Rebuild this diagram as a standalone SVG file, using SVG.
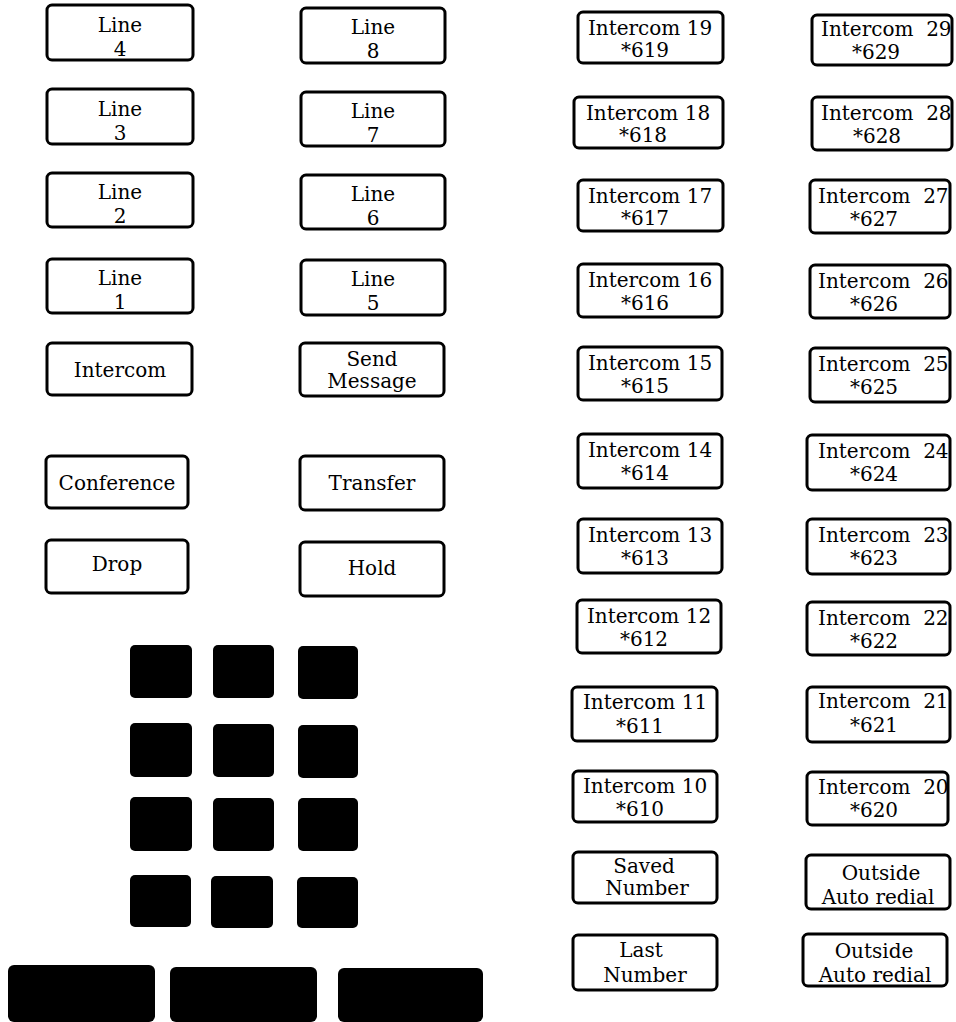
<svg xmlns="http://www.w3.org/2000/svg" width="956" height="1022" viewBox="0 0 956 1022">
<style>
.b{fill:#fff;stroke:#000;stroke-width:3}
.k{fill:#000}
.t{font-family:"DejaVu Serif","Liberation Serif",serif;font-size:20px;fill:#000;text-anchor:middle}
.s{text-anchor:start;white-space:pre}
</style>
<rect width="956" height="1022" fill="#fff"/>
<g id="line4"><rect class="b" x="47" y="5" width="146" height="55" rx="5"/><text class="t" x="120" y="32">Line</text><text class="t" x="120" y="56">4</text></g>
<g id="line3"><rect class="b" x="47" y="89" width="146" height="55" rx="5"/><text class="t" x="120" y="116">Line</text><text class="t" x="120" y="140">3</text></g>
<g id="line2"><rect class="b" x="47" y="173" width="146" height="54" rx="5"/><text class="t" x="120" y="199">Line</text><text class="t" x="120" y="223">2</text></g>
<g id="line1"><rect class="b" x="47" y="259" width="146" height="54" rx="5"/><text class="t" x="120" y="285">Line</text><text class="t" x="120" y="309">1</text></g>
<g id="intercom"><rect class="b" x="47" y="343" width="145" height="52" rx="5"/><text class="t" x="120" y="377">Intercom</text></g>
<g id="conference"><rect class="b" x="46" y="456" width="142" height="52" rx="5"/><text class="t" x="117" y="490">Conference</text></g>
<g id="drop"><rect class="b" x="46" y="540" width="142" height="53" rx="5"/><text class="t" x="117" y="571">Drop</text></g>
<g id="line8"><rect class="b" x="301" y="8" width="144" height="55" rx="5"/><text class="t" x="373" y="34">Line</text><text class="t" x="373" y="58">8</text></g>
<g id="line7"><rect class="b" x="301" y="92" width="144" height="54" rx="5"/><text class="t" x="373" y="118">Line</text><text class="t" x="373" y="142">7</text></g>
<g id="line6"><rect class="b" x="301" y="175" width="144" height="54" rx="5"/><text class="t" x="373" y="201">Line</text><text class="t" x="373" y="225">6</text></g>
<g id="line5"><rect class="b" x="301" y="260" width="144" height="55" rx="5"/><text class="t" x="373" y="286">Line</text><text class="t" x="373" y="310">5</text></g>
<g id="sendmessage"><rect class="b" x="300" y="343" width="144" height="53" rx="5"/><text class="t" x="372" y="366">Send</text><text class="t" x="372" y="388">Message</text></g>
<g id="transfer"><rect class="b" x="300" y="456" width="144" height="54" rx="5"/><text class="t" x="372" y="490">Transfer</text></g>
<g id="hold"><rect class="b" x="300" y="542" width="144" height="54" rx="5"/><text class="t" x="372" y="575">Hold</text></g>
<g id="keypad">
<rect class="k" x="130" y="645" width="62" height="53" rx="5"/><rect class="k" x="213" y="645" width="61" height="53" rx="5"/><rect class="k" x="298" y="646" width="60" height="53" rx="5"/>
<rect class="k" x="130" y="723" width="62" height="54" rx="5"/><rect class="k" x="213" y="724" width="61" height="53" rx="5"/><rect class="k" x="298" y="725" width="60" height="53" rx="5"/>
<rect class="k" x="130" y="797" width="62" height="54" rx="5"/><rect class="k" x="213" y="798" width="61" height="53" rx="5"/><rect class="k" x="298" y="798" width="60" height="53" rx="5"/>
<rect class="k" x="130" y="875" width="61" height="52" rx="5"/><rect class="k" x="211" y="876" width="62" height="52" rx="5"/><rect class="k" x="297" y="877" width="61" height="51" rx="5"/>
</g>
<g id="bars">
<rect class="k" x="8" y="965" width="147" height="57" rx="6"/><rect class="k" x="170" y="967" width="147" height="55" rx="6"/><rect class="k" x="338" y="968" width="145" height="54" rx="6"/>
</g>
<g id="ic19"><rect class="b" x="578" y="12" width="145" height="51" rx="5"/><text class="t" x="650" y="35">Intercom 19</text><text class="t" x="645" y="57">*619</text></g>
<g id="ic18"><rect class="b" x="574" y="97" width="149" height="51" rx="5"/><text class="t" x="648" y="120">Intercom 18</text><text class="t" x="643" y="142">*618</text></g>
<g id="ic17"><rect class="b" x="578" y="180" width="145" height="51" rx="5"/><text class="t" x="650" y="203">Intercom 17</text><text class="t" x="645" y="225">*617</text></g>
<g id="ic16"><rect class="b" x="578" y="264" width="144" height="53" rx="5"/><text class="t" x="650" y="287">Intercom 16</text><text class="t" x="645" y="310">*616</text></g>
<g id="ic15"><rect class="b" x="578" y="347" width="144" height="53" rx="5"/><text class="t" x="650" y="370">Intercom 15</text><text class="t" x="645" y="393">*615</text></g>
<g id="ic14"><rect class="b" x="578" y="434" width="144" height="54" rx="5"/><text class="t" x="650" y="457">Intercom 14</text><text class="t" x="645" y="480">*614</text></g>
<g id="ic13"><rect class="b" x="578" y="519" width="144" height="54" rx="5"/><text class="t" x="650" y="542">Intercom 13</text><text class="t" x="645" y="565">*613</text></g>
<g id="ic12"><rect class="b" x="577" y="600" width="144" height="53" rx="5"/><text class="t" x="649" y="623">Intercom 12</text><text class="t" x="644" y="646">*612</text></g>
<g id="ic11"><rect class="b" x="572" y="687" width="145" height="54" rx="5"/><text class="t" x="645" y="709">Intercom 11</text><text class="t" x="640" y="733">*611</text></g>
<g id="ic10"><rect class="b" x="573" y="771" width="144" height="51" rx="5"/><text class="t" x="645" y="793">Intercom 10</text><text class="t" x="640" y="816">*610</text></g>
<g id="saved"><rect class="b" x="573" y="852" width="144" height="51" rx="5"/><text class="t" x="644" y="873">Saved</text><text class="t" x="647" y="895">Number</text></g>
<g id="last"><rect class="b" x="573" y="935" width="144" height="55" rx="5"/><text class="t" x="641" y="957">Last</text><text class="t" x="645" y="982">Number</text></g>
<g id="ic29"><rect class="b" x="812" y="15" width="140" height="50" rx="5"/><text class="t s" x="821" y="36" xml:space="preserve">Intercom  29</text><text class="t" x="876" y="59">*629</text></g>
<g id="ic28"><rect class="b" x="812" y="97" width="140" height="53" rx="5"/><text class="t s" x="821" y="120" xml:space="preserve">Intercom  28</text><text class="t" x="877" y="143">*628</text></g>
<g id="ic27"><rect class="b" x="810" y="180" width="140" height="53" rx="5"/><text class="t s" x="818" y="203" xml:space="preserve">Intercom  27</text><text class="t" x="874" y="226">*627</text></g>
<g id="ic26"><rect class="b" x="810" y="265" width="140" height="53" rx="5"/><text class="t s" x="818" y="288" xml:space="preserve">Intercom  26</text><text class="t" x="874" y="311">*626</text></g>
<g id="ic25"><rect class="b" x="810" y="348" width="140" height="54" rx="5"/><text class="t s" x="818" y="371" xml:space="preserve">Intercom  25</text><text class="t" x="874" y="394">*625</text></g>
<g id="ic24"><rect class="b" x="807" y="435" width="143" height="55" rx="5"/><text class="t s" x="818" y="458" xml:space="preserve">Intercom  24</text><text class="t" x="874" y="481">*624</text></g>
<g id="ic23"><rect class="b" x="807" y="519" width="143" height="55" rx="5"/><text class="t s" x="818" y="542" xml:space="preserve">Intercom  23</text><text class="t" x="874" y="565">*623</text></g>
<g id="ic22"><rect class="b" x="807" y="602" width="143" height="53" rx="5"/><text class="t s" x="818" y="625" xml:space="preserve">Intercom  22</text><text class="t" x="874" y="648">*622</text></g>
<g id="ic21"><rect class="b" x="807" y="687" width="143" height="55" rx="5"/><text class="t s" x="818" y="708" xml:space="preserve">Intercom  21</text><text class="t" x="874" y="732">*621</text></g>
<g id="ic20"><rect class="b" x="807" y="772" width="141" height="53" rx="5"/><text class="t s" x="818" y="794" xml:space="preserve">Intercom  20</text><text class="t" x="874" y="817">*620</text></g>
<g id="outside1"><rect class="b" x="806" y="855" width="144" height="54" rx="5"/><text class="t" x="881" y="880">Outside</text><text class="t" x="878" y="904">Auto redial</text></g>
<g id="outside2"><rect class="b" x="803" y="934" width="144" height="52" rx="5"/><text class="t" x="874" y="958">Outside</text><text class="t" x="875" y="982">Auto redial</text></g>
<g id="connectors"></g>
</svg>
